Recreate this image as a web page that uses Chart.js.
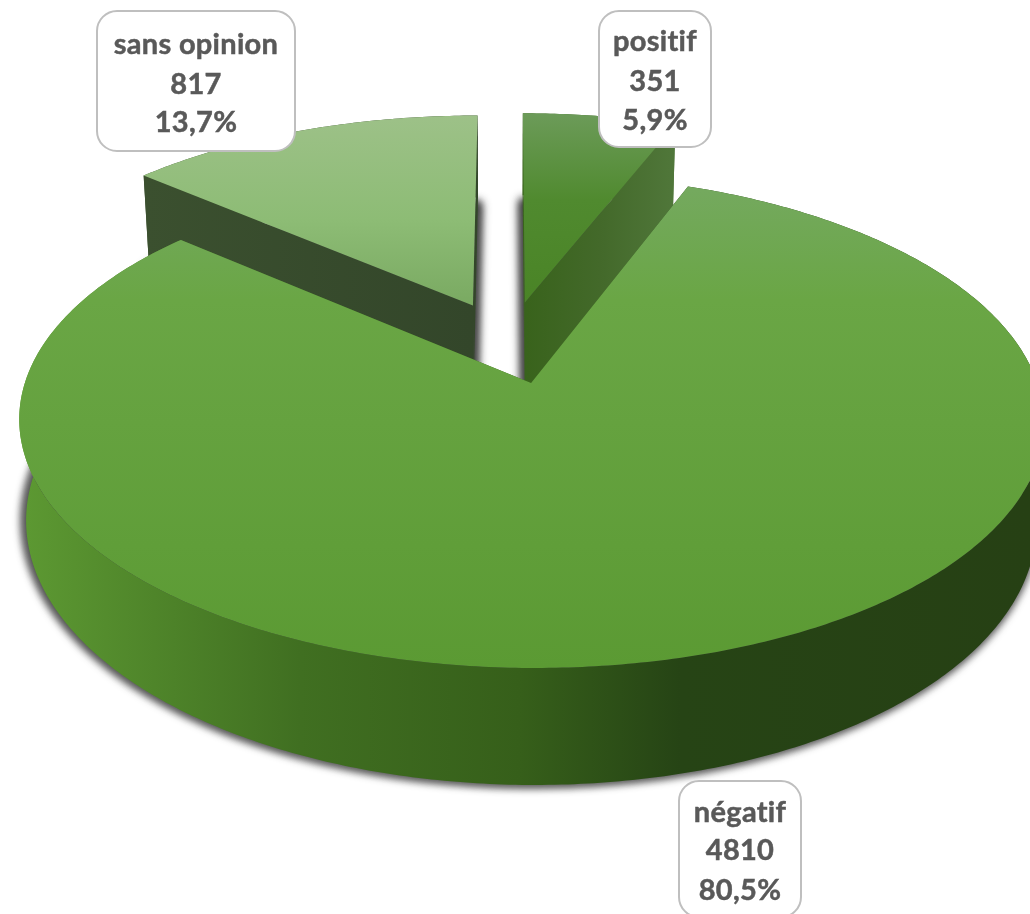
<!DOCTYPE html>
<html lang="fr"><head><meta charset="utf-8">
<style>html,body{margin:0;padding:0;background:#fff;overflow:hidden}canvas{display:block}</style>
<script src="https://cdn.jsdelivr.net/npm/chart.js@4"></script>
</head><body><canvas id="c" width="1030" height="914"></canvas>
<script>
const categories = ['positif', 'négatif', 'sans opinion'];
const values = [351, 4810, 817];
const percents = ['5,9%', '80,5%', '13,7%'];
const explode = [0.18, 0.18, 0.18];

const topStops = [
  [[113,'#6c9b59'],[200,'#508a2f'],[300,'#4a8426']],
  [[190,'#74a95e'],[300,'#6aa645'],[668,'#5b9a33']],
  [[115,'#9dc188'],[220,'#8dbc75'],[303,'#7aaa62']]
];
const wallStops = [
  [[527,'#39631c'],[600,'#43692a'],[675,'#50773a']],
  [[27,'#5c9832'],[300,'#406f21'],[520,'#365f1a'],[680,'#264415'],[1030,'#264014']],
  [[145,'#3b502f'],[473,'#33462a']]
];
const boxes = [
  {x:599,y:11,w:112,h:136,cx:655,base:[51,91,130]},
  {x:679,y:781,w:122,h:136,cx:740,base:[822,860,900]},
  {x:97,y:11,w:198,h:140,cx:196,base:[54,94,132]}
];
const shadows = [
  {line:9,dx:0,dy:7},
  {line:5,dx:-2,dy:0},
  {line:9,dx:0,dy:7}
];
const P = {X0:509, Y0:342, f:493, g:228.6, k:0.15, depth:96.4, shrink:0.986};

function proj(u, v, z){
  const w = 1 + P.k*v;
  return [P.X0 + (z? P.shrink:1)*P.f*u/w, P.Y0 - P.g*v/w + (z? P.depth/w:0)];
}
function pt(i, th, r, z){
  const mid = midAngles[i], e = explode[i];
  return proj(e*Math.sin(mid)+r*Math.sin(th), e*Math.cos(mid)+r*Math.cos(th), z);
}
let midAngles = [];
function grad(ctx, stops, vertical){
  const a = stops[0][0], b = stops[stops.length-1][0];
  const g = vertical ? ctx.createLinearGradient(0,a,0,b) : ctx.createLinearGradient(a,0,b,0);
  stops.forEach(s=>g.addColorStop((s[0]-a)/(b-a), s[1]));
  return g;
}
function arcPts(i, a, b, z){
  const n = Math.max(8, Math.ceil((b-a)*90)), out=[];
  for(let j=0;j<=n;j++) out.push(pt(i, a+(b-a)*j/n, 1, z));
  return out;
}
function tracePoly(ctx, pts, dx){
  ctx.beginPath(); pts.forEach((p,j)=> j? ctx.lineTo(p[0]+dx,p[1]) : ctx.moveTo(p[0]+dx,p[1]));
  ctx.closePath();
}
function fillPoly(ctx, pts, style){
  tracePoly(ctx, pts, 0); ctx.fillStyle=style; ctx.fill();
}
const pie3d = {
  id:'pie3d',
  afterDatasetsDraw(chart){
    const ctx = chart.ctx, arcs = chart.getDatasetMeta(0).data;
    const ang = arcs.map(el=>[el.startAngle+Math.PI/2, el.endAngle+Math.PI/2]);
    midAngles = ang.map(a=>(a[0]+a[1])/2);
    const far = 3000;
    [2,0,1].forEach(i=>{
      const [a,b] = ang[i];
      const apexT = pt(i,0,0,false), apexB = pt(i,0,0,true);
      const topArc = arcPts(i,a,b,false), botArc = arcPts(i,a,b,true);
      // cast shadow: shape is drawn off-canvas, only its blurred shadow lands on the page
      const sh = shadows[i];
      ctx.save();
      ctx.shadowColor='rgba(45,45,45,0.95)'; ctx.shadowBlur=9;
      ctx.shadowOffsetX=far+sh.dx; ctx.shadowOffsetY=sh.dy;
      tracePoly(ctx,[apexB].concat(botArc),-far);
      ctx.fillStyle='#000'; ctx.strokeStyle='#000'; ctx.lineWidth=sh.line; ctx.lineJoin='round';
      ctx.fill(); ctx.stroke();
      ctx.restore();
      const wall = grad(ctx, wallStops[i], false);
      [[topArc[0],botArc[0]],[topArc[topArc.length-1],botArc[botArc.length-1]]].forEach(e=>{
        fillPoly(ctx,[apexT,e[0],e[1],apexB],wall);
      });
      fillPoly(ctx, topArc.concat(botArc.slice().reverse()), wall);
      fillPoly(ctx, [apexT].concat(topArc), grad(ctx, topStops[i], true));
    });
    ctx.save();
    boxes.forEach((b,i)=>{
      ctx.beginPath(); ctx.roundRect(b.x,b.y,b.w,b.h,20);
      ctx.fillStyle='#fff'; ctx.fill();
      ctx.lineWidth=2; ctx.strokeStyle='#bfbfbf'; ctx.stroke();
      ctx.fillStyle='#595959'; ctx.strokeStyle='#595959'; ctx.lineWidth=0.5;
      ctx.font='bold 29px Lato'; ctx.letterSpacing='0.3px';
      ctx.textAlign='center'; ctx.textBaseline='alphabetic';
      [categories[i], String(values[i]), percents[i]].forEach((t,j)=>{
        ctx.fillText(t,b.cx,b.base[j]); ctx.strokeText(t,b.cx,b.base[j]);
      });
    });
    ctx.restore();
  }
};
new Chart(document.getElementById('c'),{
  type:'pie',
  data:{labels:categories,datasets:[{data:values,backgroundColor:'rgba(0,0,0,0)',borderWidth:0}]},
  options:{responsive:false,animation:false,rotation:0,
    plugins:{legend:{display:false},tooltip:{enabled:false}}},
  plugins:[pie3d]
});
</script></body></html>
